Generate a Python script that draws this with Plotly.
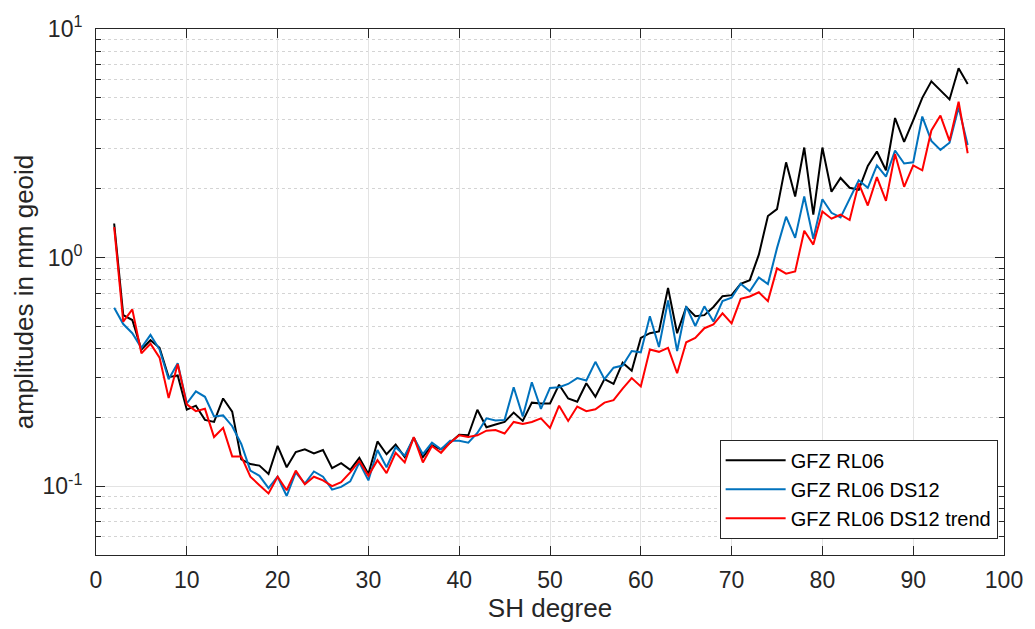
import numpy as np
import plotly.graph_objects as go

# Spherical harmonic degrees
degrees = list(range(2, 97))

# Degree amplitudes in mm geoid height
gfz_rl06 = [
    1.41, 0.56, 0.533, 0.396, 0.435, 0.403, 0.30, 0.305, 0.216,          # 2-10
    0.225, 0.195, 0.191, 0.242, 0.212, 0.131, 0.125, 0.123, 0.113, 0.150,  # 11-20
    0.121, 0.141, 0.145, 0.139, 0.144, 0.120, 0.126, 0.118, 0.133, 0.113,  # 21-30
    0.157, 0.138, 0.152, 0.134, 0.163, 0.134, 0.151, 0.145, 0.155, 0.168,  # 31-40
    0.167, 0.216, 0.181, 0.186, 0.191, 0.210, 0.193, 0.232, 0.230, 0.230,  # 41-50
    0.278, 0.242, 0.234, 0.282, 0.246, 0.294, 0.280, 0.347, 0.320, 0.445,  # 51-60
    0.467, 0.475, 0.736, 0.467, 0.608, 0.554, 0.560, 0.608, 0.678, 0.685,  # 61-70
    0.768, 0.797, 1.03, 1.52, 1.63, 2.61, 1.85, 3.03, 1.54, 3.03,          # 71-80
    1.94, 2.23, 2.02, 1.98, 2.52, 2.91, 2.41, 4.08, 3.21, 3.98,            # 81-90
    5.00, 5.90, 5.38, 4.92, 6.73, 5.75,                                    # 91-96
]

gfz_rl06_ds12 = [
    0.604, 0.512, 0.467, 0.403, 0.459, 0.396, 0.294, 0.345, 0.230,
    0.260, 0.246, 0.202, 0.204, 0.183, 0.153, 0.117, 0.111, 0.098, 0.110,
    0.0906, 0.115, 0.1026, 0.116, 0.110, 0.0966, 0.0993, 0.105, 0.127, 0.106,
    0.144, 0.121, 0.148, 0.136, 0.163, 0.138, 0.155, 0.145, 0.158, 0.158,
    0.155, 0.171, 0.198, 0.194, 0.195, 0.271, 0.202, 0.285, 0.218, 0.269,
    0.271, 0.280, 0.297, 0.290, 0.350, 0.294, 0.330, 0.337, 0.390, 0.385,
    0.554, 0.406, 0.649, 0.390, 0.612, 0.502, 0.612, 0.525, 0.645, 0.667,
    0.768, 0.712, 0.818, 0.766, 1.10, 1.51, 1.22, 1.85, 1.21, 1.80,
    1.57, 1.50, 1.80, 2.18, 2.02, 2.53, 2.26, 2.94, 2.58, 2.61,
    4.14, 3.24, 2.96, 3.18, 4.54, 3.11,
]

gfz_rl06_ds12_trend = [
    1.36, 0.525, 0.593, 0.381, 0.420, 0.365, 0.243, 0.342, 0.228,
    0.213, 0.218, 0.164, 0.180, 0.135, 0.135, 0.110, 0.101, 0.093, 0.110,
    0.096, 0.117, 0.102, 0.110, 0.106, 0.100, 0.104, 0.115, 0.129, 0.111,
    0.130, 0.114, 0.140, 0.127, 0.164, 0.127, 0.150, 0.140, 0.155, 0.167,
    0.164, 0.167, 0.175, 0.176, 0.170, 0.191, 0.187, 0.191, 0.198, 0.180,
    0.225, 0.193, 0.223, 0.213, 0.217, 0.232, 0.238, 0.267, 0.297, 0.273,
    0.396, 0.387, 0.403, 0.312, 0.426, 0.445, 0.491, 0.510, 0.570, 0.515,
    0.660, 0.676, 0.705, 0.645, 0.897, 0.851, 0.870, 1.31, 1.14, 1.59,
    1.48, 1.54, 1.46, 2.11, 1.69, 2.25, 1.77, 2.84, 2.04, 2.53,
    2.41, 3.60, 4.18, 3.24, 4.81, 2.86,
]

series_names = ["GFZ RL06", "GFZ RL06 DS12", "GFZ RL06 DS12 trend"]
series_colors = ["#000000", "#0072BD", "#FF0000"]

# Axis ticks
x_ticks = list(range(0, 101, 10))
y_decades = [0.1, 1, 10]
y_decade_labels = ["10<sup>-1</sup>", "10<sup>0</sup>", "10<sup>1</sup>"]
y_minor = [m * d for d in [0.01, 0.1, 1] for m in range(2, 10)]
y_minor = [v for v in y_minor if 0.05 <= v <= 10]

FONT = "Liberation Sans, Arial, sans-serif"
AXIS_COLOR = "#262626"
GRID_COLOR = "#e3e3e3"
TEXT_COLOR = "#262626"

fig = go.Figure()
for name, color, vals in zip(series_names, series_colors,
                             [gfz_rl06, gfz_rl06_ds12, gfz_rl06_ds12_trend]):
    fig.add_trace(go.Scatter(
        x=degrees, y=vals, mode="lines", name=name,
        line=dict(color=color, width=2),
    ))

fig.update_layout(
    width=1035, height=629,
    margin=dict(l=96, r=22, t=19, b=73),
    paper_bgcolor="white", plot_bgcolor="white",
    font=dict(family=FONT, color=TEXT_COLOR),
    showlegend=True,
    legend=dict(
        x=0.993, y=0.031, xanchor="right", yanchor="bottom",
        bgcolor="white", bordercolor=AXIS_COLOR, borderwidth=1,
        font=dict(size=20, color="#000000", family=FONT),
        itemwidth=60, tracegroupgap=0,
    ),
)

fig.update_xaxes(
    range=[0, 100], tickvals=x_ticks,
    ticks="inside", ticklen=9, tickwidth=1, tickcolor=AXIS_COLOR,
    showline=True, linecolor=AXIS_COLOR, linewidth=1, mirror="ticks",
    showgrid=True, gridcolor=GRID_COLOR, gridwidth=1, zeroline=False,
    tickfont=dict(size=23, family=FONT, color=TEXT_COLOR),
    ticklabelstandoff=4,
    title=dict(text="SH degree", font=dict(size=26, family=FONT, color=TEXT_COLOR),
               standoff=6),
)

fig.update_yaxes(
    type="log", range=[np.log10(0.05), 1],
    tickmode="array", tickvals=y_decades, ticktext=y_decade_labels,
    ticks="inside", ticklen=9, tickwidth=1, tickcolor=AXIS_COLOR,
    showline=True, linecolor=AXIS_COLOR, linewidth=1, mirror="ticks",
    showgrid=True, gridcolor=GRID_COLOR, gridwidth=1, zeroline=False,
    minor=dict(tickmode="array", tickvals=y_minor, ticks="inside", ticklen=5,
               tickcolor=AXIS_COLOR, showgrid=True, gridcolor="#d4d4d4",
               griddash="dot", gridwidth=1),
    tickfont=dict(size=23, family=FONT, color=TEXT_COLOR),
    ticklabelstandoff=8,
    title=dict(text="amplitudes in mm geoid",
               font=dict(size=26, family=FONT, color=TEXT_COLOR), standoff=1),
)

fig.write_html("out.html")
